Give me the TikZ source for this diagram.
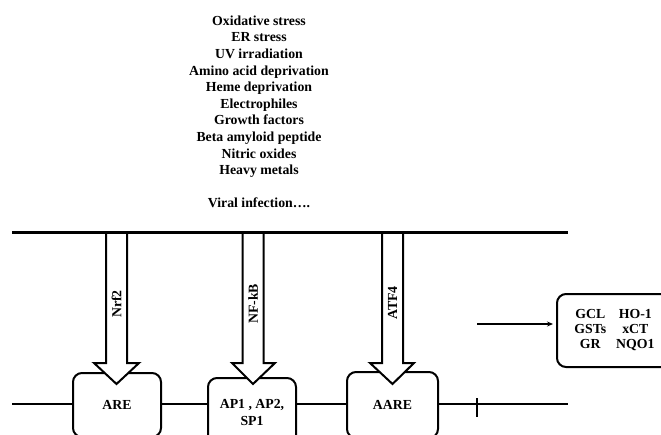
\documentclass[tikz,border=0pt]{standalone}
\usepackage{fontspec}
\setmainfont{Liberation Serif}
\usetikzlibrary{arrows.meta,calc}
\begin{document}
\begin{tikzpicture}[x=1pt,y=-1pt,
  txt/.style={font=\fontsize{13.8}{16.6}\selectfont\bfseries, inner sep=0pt},
  gbox/.style={draw, line width=2pt, rounded corners=9pt, fill=white, txt},
  memb/.style={line width=2.5pt},
  blockarrow/.style={draw, fill=white, line width=2pt, miter limit=10},
  lbl/.style={txt, rotate=90}]
\clip (0,0) rectangle (661,434);
\fill[white] (0,0) rectangle (661,434);

% stimuli
\node[txt, align=center] (stim) at (259,112) {Oxidative stress\\ER stress\\UV irradiation\\Amino acid deprivation\\Heme deprivation\\Electrophiles\\Growth factors\\Beta amyloid peptide\\Nitric oxides\\Heavy metals\\[16.6pt]Viral infection\ldots.};

% membrane lines
\coordinate (TL) at (12,232.5);
\coordinate (TR) at (568,232.5);
\coordinate (BL) at (12,404);
\coordinate (BR) at (568,404);
\draw[memb] (TL) -- (TR);

% boxes
\node[gbox, minimum width=88pt, minimum height=64pt] (ARE) at (117,405) {ARE};
\node[gbox, minimum width=88pt, minimum height=69pt, align=center] (AP) at (252,412.5) {AP1 , AP2,\\SP1};
\node[gbox, minimum width=91pt, minimum height=66pt] (AARE) at (392.5,405) {AARE};
\node[gbox, minimum width=115pt, minimum height=73pt] (GENES) at (614.5,330.5)
  {\begin{tabular}{@{}c@{\hspace{10pt}}c@{}}GCL & HO-1\\[-1.5pt] GSTs & xCT\\[-1.5pt] GR & NQO1\end{tabular}};

% bottom line segments
\draw[memb] (BL) -- (ARE.west |- BL);
\draw[memb] (ARE.east |- BL) -- (AP.west |- BL);
\draw[memb] (AP.east |- BL) -- (AARE.west |- BL);
\draw[memb] (AARE.east |- BL) -- (BR);

% block arrows
\draw[blockarrow] (106,232.5) -- (106,363) -- (94,363) -- (116.5,384) -- (139,363) -- (127,363) -- (127,232.5);
\draw[blockarrow] (242.5,232.5) -- (242.5,363) -- (232,363) -- (253,384) -- (275,363) -- (263.5,363) -- (263.5,232.5);
\draw[blockarrow] (382,232.5) -- (382,363) -- (370,363) -- (392.5,384) -- (414,363) -- (403,363) -- (403,232.5);
\draw[memb] (TL) -- (TR);

\node[lbl] (nrf) at (116.5,304) {Nrf2};
\node[lbl] (nfkb) at (253,304) {NF-kB};
\node[lbl] (atf) at (392.5,303) {ATF4};

% inhibition tick
\coordinate (T1) at (477,398);
\coordinate (T2) at (477,417);
\draw[line width=2pt] (T1) -- (T2);

% arrow to genes
\coordinate (A0) at (477,324);
\draw[line width=1.6pt, -{Stealth[length=6pt,width=5pt]}] (A0) -- ($(GENES.west |- A0)+(-3,0)$);
\end{tikzpicture}
\end{document}
